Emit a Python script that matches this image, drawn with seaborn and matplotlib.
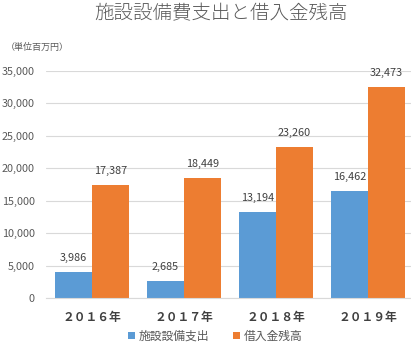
import matplotlib
matplotlib.use("Agg")
import matplotlib.pyplot as plt
import seaborn as sns
import pandas as pd

years = ["２０１６年", "２０１７年", "２０１８年", "２０１９年"]
series_names = ["施設設備支出", "借入金残高"]
capex = [3986, 2685, 13194, 16462]
loans = [17387, 18449, 23260, 32473]
yticks = [0, 5000, 10000, 15000, 20000, 25000, 30000, 35000]

sns.set_theme(style="white")
plt.rcParams["font.family"] = ["Noto Sans CJK JP", "DejaVu Sans"]

df = pd.DataFrame({
    "year": years * 2,
    "series": [series_names[0]] * 4 + [series_names[1]] * 4,
    "value": capex + loans,
})

fig = plt.figure(figsize=(4.11, 3.45), dpi=100)
ax = fig.add_axes([46 / 411, 1 - 298 / 345, 368 / 411, (298 - 70.5) / 345])

sns.barplot(data=df, x="year", y="value", hue="series", order=years,
            hue_order=series_names, palette=["#5B9BD5", "#ED7D31"],
            width=0.8, saturation=1, ax=ax, legend=True, zorder=2, linewidth=0)

ax.set_ylim(0, 35000)
ax.set_yticks(yticks)
ax.set_yticklabels([f"{v:,}" if v else "0" for v in yticks], fontsize=7.8, color="#595959")
ax.set_xlabel("")
ax.set_ylabel("")
ax.grid(axis="y", color="#D9D9D9", linewidth=0.8, zorder=0)
ax.set_axisbelow(True)
for s in ["top", "right", "left"]:
    ax.spines[s].set_visible(False)
ax.spines["bottom"].set_color("#D9D9D9")
ax.spines["bottom"].set_linewidth(0.8)
ax.tick_params(axis="both", length=0)
ax.tick_params(axis="y", pad=8)
ax.tick_params(axis="x", pad=9)
for lbl in ax.get_xticklabels():
    lbl.set_fontsize(8.5)
    lbl.set_fontweight("bold")
    lbl.set_color("#404040")

for cont in ax.containers:
    for p in cont.patches:
        h = p.get_height()
        ax.annotate(f"{int(round(h)):,}", (p.get_x() + p.get_width() / 2, h),
                    xytext=(0, 10), textcoords="offset points",
                    ha="center", va="center", fontsize=7.8, color="#404040")

handles, labels = ax.get_legend_handles_labels()
ax.get_legend().remove()
fig.legend(handles, labels, loc="center", bbox_to_anchor=(215 / 411, 1 - 336 / 345),
           ncol=2, frameon=False, fontsize=8.5, handlelength=0.6, handleheight=0.6,
           handletextpad=0.3, columnspacing=2.0, labelcolor="#595959")

fig.text(221 / 411, 1 - 14 / 345, "施設設備費支出と借入金残高", ha="center", va="center",
         fontsize=14, color="#595959", fontweight="light")
fig.text(6 / 411, 1 - 47 / 345, "（単位百万円）", ha="left", va="center",
         fontsize=6.5, color="#595959")

fig.savefig("out.png", dpi=100)
